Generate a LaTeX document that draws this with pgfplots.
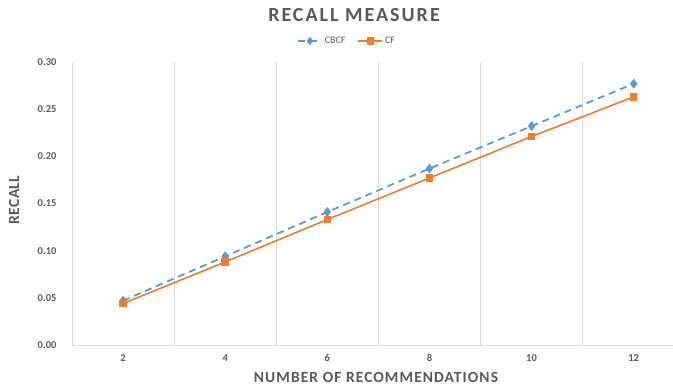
\documentclass[border=0pt]{standalone}
\usepackage{fontspec}
\setmainfont{Carlito}
\newfontfamily\titlefont[LetterSpace=10]{Carlito}
\newfontfamily\labelfont[LetterSpace=7]{Carlito}
\newfontfamily\ylabelfont[LetterSpace=3]{Carlito}
\usepackage{pgfplots}
\pgfplotsset{compat=1.18}
\definecolor{cbcf}{HTML}{5B9BD5}
\definecolor{cf}{HTML}{ED7D31}
\definecolor{txt}{HTML}{595959}
\definecolor{gridc}{HTML}{D9D9D9}

\begin{document}
\begin{tikzpicture}
\begin{axis}[
  at={(0,0)}, anchor=south west,
  scale only axis, width=601pt, height=283pt,
  xmin=0.5, xmax=6.385, ymin=0, ymax=0.30,
  xtick={1,2,3,4,5,6}, xticklabels={2,4,6,8,10,12},
  minor xtick={0.5,1.5,2.5,3.5,4.5,5.5},
  xminorgrids, minor x grid style={gridc, line width=0.8pt},
  ytick={0,0.05,0.10,0.15,0.20,0.25,0.30},
  y tick label style={/pgf/number format/fixed, /pgf/number format/fixed zerofill,
    /pgf/number format/precision=2, xshift=-12pt},
  /pgf/number format/assume math mode=true,
  axis x line*=bottom, axis y line*=left,
  x axis line style={gridc, line width=0.8pt, -},
  y axis line style={draw=none},
  major tick length=0pt, minor tick length=0pt,
  ticklabel style={font=\fontsize{10.5}{12}\selectfont\bfseries, text=txt},
  xticklabel style={yshift=-6pt},
  legend columns=2,
  legend style={at={(0.4576,1.074)}, anchor=center, draw=none, fill=none,
    font=\fontsize{10}{11}\selectfont, text=txt,
    /tikz/every even column/.append style={column sep=10pt}},
  legend image code/.code={%
    \draw[mark repeat=2,mark phase=2, mark size=2.8pt] plot coordinates {(0pt,0pt)(12pt,0pt)(24pt,0pt)};},
]
\addplot[cbcf, line width=1.8pt, dash pattern=on 7pt off 5pt,
  mark=diamond*, mark size=3.5pt, mark options={solid}]
  coordinates {(1,0.047) (2,0.094) (3,0.141) (4,0.187) (5,0.232) (6,0.277)};
\addlegendentry{CBCF}
\addplot[cf, line width=1.6pt, mark=square*, mark size=3pt]
  coordinates {(1,0.044) (2,0.088) (3,0.133) (4,0.177) (5,0.221) (6,0.263)};
\addlegendentry{CF}
\end{axis}
% titles
\node[text=txt, font=\titlefont\fontsize{20}{22}\selectfont\bfseries] at (282pt,330pt) {RECALL MEASURE};
\node[text=txt, font=\labelfont\fontsize{15.5}{17}\selectfont\bfseries] at (304pt,-32pt) {NUMBER OF RECOMMENDATIONS};
\node[text=txt, font=\ylabelfont\fontsize{15.5}{17}\selectfont\bfseries, rotate=90] at (-58pt,145pt) {RECALL};
\pgfresetboundingbox
\path[use as bounding box] (-72pt,-43pt) rectangle (601pt,345pt);
\end{tikzpicture}
\end{document}
